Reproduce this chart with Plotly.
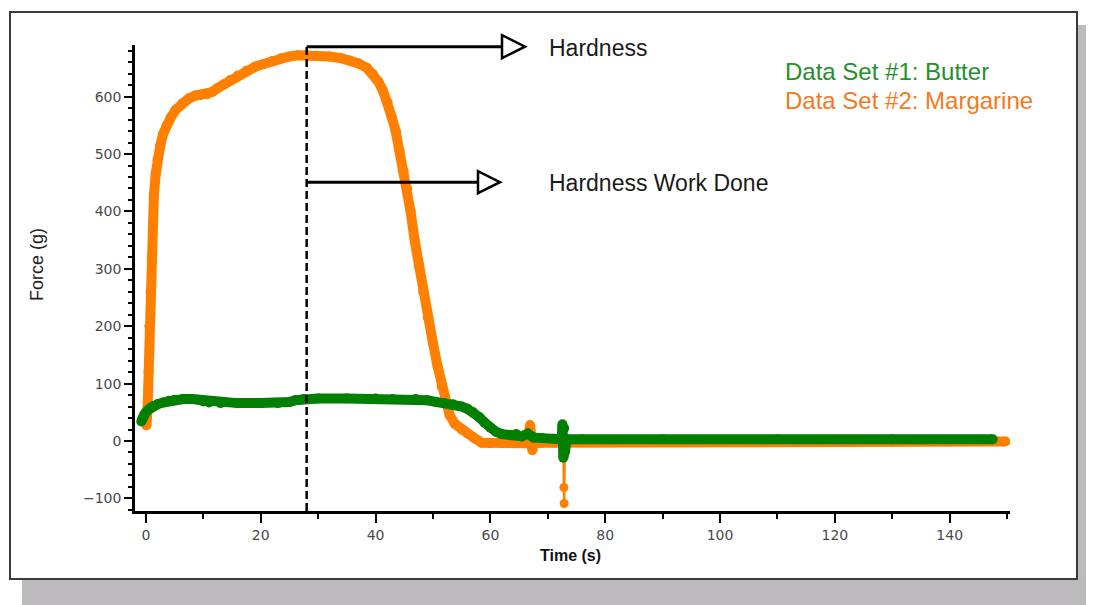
import plotly.graph_objects as go

# ---------------- data ----------------
margarine_time = [-0.2, 0.1, 0.3, 0.45, 0.6, 0.8, 1.0, 1.2, 1.4, 1.7, 2.0, 2.5, 3.0, 3.6,
                  4.3, 5.2, 6.3, 7.5, 8.6, 9.6, 10.6, 11.5, 12.5, 13.6, 14.7, 16.0, 17.5,
                  19.0, 20.5, 22.0, 23.5, 25.0, 26.5, 28.0, 30.0, 32.0, 34.0, 35.5, 37.0,
                  38.5, 39.5, 40.5, 41.3, 42.1, 42.8, 43.5, 44.2, 44.9, 45.5, 46.1, 46.8,
                  47.5, 48.3, 49.1, 50.0, 50.8, 51.5, 52.2, 52.9, 53.8, 55.0, 56.0, 57.2,
                  58.5, 60.0, 62.0, 64.0, 66.0, 66.6, 66.9, 67.1, 67.3, 67.6, 69.0, 71.0,
                  72.7, 74.0, 80.0, 90.0, 100.0, 110.0, 120.0, 130.0, 140.0, 149.7]
margarine_force = [40, 27, 60, 120, 200, 260, 320, 380, 430, 465, 490, 515, 535, 550,
                   563, 577, 588, 597, 602, 603, 604, 608, 615, 622, 629, 637, 645,
                   652, 657, 662, 667, 670, 672, 672, 671, 670, 667, 663, 658,
                   650, 640, 626, 610, 590, 565, 540, 505, 470, 440, 400, 350,
                   305, 260, 215, 170, 130, 95, 65, 45, 30, 20, 13, 5,
                   -3, -4, -4, -4, -4, -4, 28, 10, -16, -4, -3, -3,
                   -3, -2, -1, -1, -1, -1, -1, -1, -1, -1]

margarine_spike_time = [72.7, 72.8, 72.85, 72.95]
margarine_spike_force = [-3, -81, -109, -3]

butter_time = [-0.8, -0.6, -0.3, 0.0, 0.4, 0.8, 1.3, 2.0, 3.0, 4.0, 5.0, 6.5, 8.0, 9.0,
               10.0, 11.0, 13.0, 16.0, 20.0, 23.0, 25.0, 26.0, 27.5, 30.0, 35.0, 40.0,
               43.0, 47.0, 49.0, 50.5, 52.0, 53.5, 55.0, 56.0, 57.0, 58.0, 59.0, 60.0,
               61.0, 62.0, 63.5, 64.5, 65.5, 66.5, 67.5, 69.0, 71.0, 72.4, 72.55, 72.7,
               72.85, 73.0, 73.3, 76.0, 90.0, 110.0, 130.0, 147.5]
butter_force = [34, 40, 46, 50, 54, 58, 61, 64, 67, 70, 72, 73, 73, 72,
                69, 67, 66, 66, 66, 66, 68, 71, 73, 74, 74, 74,
                73, 73, 71, 68, 66, 64, 60, 56, 50, 42, 32, 23,
                16, 12, 10, 12, 8, 13, 6, 5, 4, 3, 29, -29,
                22, -18, 3, 3, 3, 3, 3, 3]

x_ticks = [0, 20, 40, 60, 80, 100, 120, 140]
y_ticks = [-100, 0, 100, 200, 300, 400, 500, 600]

hardness_time = 28
hardness_force = 687
work_force = 451

X_RANGE = [-1.9, 150.5]
Y_RANGE = [-122, 690]

ORANGE = "#ff8000"
GREEN = "#007f00"

# ---------------- layout geometry ----------------
# the page body has an 8px margin, so the figure starts at page pixel (8, 8)
OFF = 8
W, H = 1094 - OFF, 605 - OFF
PLOT_L, PLOT_R, PLOT_T, PLOT_B = 135, 1010, 45, 511   # page pixels
ML = PLOT_L - OFF
MT = PLOT_T - OFF
MR = W - (PLOT_R - OFF)
MB = H - (PLOT_B - OFF)
PW, PH = PLOT_R - PLOT_L, PLOT_B - PLOT_T


def xp(t):
    return (t - X_RANGE[0]) / (X_RANGE[1] - X_RANGE[0])


def yp(f):
    return (f - Y_RANGE[0]) / (Y_RANGE[1] - Y_RANGE[0])


def px_x(X):
    return (X - PLOT_L) / PW


def px_y(Y):
    return (PLOT_B - Y) / PH


fig = go.Figure()

fig.add_trace(go.Scatter(
    x=margarine_time, y=margarine_force, mode="lines+markers",
    line=dict(color=ORANGE, width=10), marker=dict(color=ORANGE, size=10),
    showlegend=False, hoverinfo="skip"))
fig.add_trace(go.Scatter(
    x=margarine_spike_time, y=margarine_spike_force, mode="lines+markers",
    line=dict(color=ORANGE, width=2.5), marker=dict(color=ORANGE, size=9),
    showlegend=False, hoverinfo="skip"))
fig.add_trace(go.Scatter(
    x=butter_time, y=butter_force, mode="lines+markers",
    line=dict(color=GREEN, width=10), marker=dict(color=GREEN, size=10),
    showlegend=False, hoverinfo="skip"))

shapes = []
# drop shadow and frame
shapes.append(dict(type="rect", xref="paper", yref="paper", layer="below",
                   x0=px_x(22), x1=px_x(1120), y0=px_y(640), y1=px_y(25),
                   fillcolor="#bdbbbe", line=dict(width=0)))
shapes.append(dict(type="rect", xref="paper", yref="paper", layer="below",
                   x0=px_x(10), x1=px_x(1077), y0=px_y(579), y1=px_y(12),
                   fillcolor="white", line=dict(color="#3a3a3a", width=2)))
# dashed vertical line
shapes.append(dict(type="line", xref="x", yref="paper",
                   x0=hardness_time, x1=hardness_time, y0=0, y1=yp(hardness_force),
                   line=dict(color="black", width=2.5, dash="8px,4px")))


def arrow(f, x_end_px, head_px=23, half_h_px=11.5):
    x0 = xp(hardness_time)
    yv = yp(f)
    xb = px_x(x_end_px)
    xt = xb + head_px / PW
    dh = half_h_px / PH
    out = [dict(type="line", xref="paper", yref="paper", x0=x0, x1=xb, y0=yv, y1=yv,
                line=dict(color="black", width=3))]
    out.append(dict(type="path", xref="paper", yref="paper",
                    path=f"M {xb},{yv - dh} L {xt},{yv} L {xb},{yv + dh} Z",
                    fillcolor="white", line=dict(color="black", width=2.5)))
    return out


shapes += arrow(hardness_force, 502)
shapes += arrow(work_force, 478, head_px=22, half_h_px=11)

annotations = [
    dict(text="Hardness", xref="paper", yref="paper", x=px_x(547), y=px_y(48),
         xanchor="left", yanchor="middle", showarrow=False,
         font=dict(family="Liberation Sans, Arial", size=23, color="#1a1a1a")),
    dict(text="Hardness Work Done", xref="paper", yref="paper", x=px_x(547), y=px_y(183),
         xanchor="left", yanchor="middle", showarrow=False,
         font=dict(family="Liberation Sans, Arial", size=23, color="#1a1a1a")),
    dict(text="Data Set #1: Butter", xref="paper", yref="paper", x=px_x(783), y=px_y(72),
         xanchor="left", yanchor="middle", showarrow=False,
         font=dict(family="Liberation Sans, Arial", size=24, color="#23902a")),
    dict(text="Data Set #2: Margarine", xref="paper", yref="paper", x=px_x(783), y=px_y(100),
         xanchor="left", yanchor="middle", showarrow=False,
         font=dict(family="Liberation Sans, Arial", size=24, color="#f47a22")),
    dict(text="<b>Time (s)</b>", xref="paper", yref="paper", x=px_x(570), y=px_y(555),
         xanchor="center", yanchor="middle", showarrow=False,
         font=dict(family="Liberation Sans Narrow, Liberation Sans, Arial", size=16, color="#111")),
    dict(text="Force (g)", xref="paper", yref="paper", x=px_x(37), y=px_y(265),
         xanchor="center", yanchor="middle", showarrow=False, textangle=-90,
         font=dict(family="Liberation Sans, Arial", size=18, color="#222")),
]

tickfont = dict(family="DejaVu Sans, Verdana", size=14, color="#4a4a4a")

fig.update_layout(
    width=W, height=H, autosize=False,
    margin=dict(l=ML, r=MR, t=MT, b=MB, pad=0),
    paper_bgcolor="white", plot_bgcolor="rgba(0,0,0,0)",
    shapes=shapes, annotations=annotations,
    xaxis=dict(range=X_RANGE, showgrid=False, zeroline=False, showline=True,
               linecolor="black", linewidth=2.5, ticks="outside", tickmode="array",
               tickvals=x_ticks, ticklen=9, tickwidth=2, tickcolor="black",
               tickfont=tickfont,
               minor=dict(tick0=0, dtick=10, ticks="outside", ticklen=5, tickwidth=2,
                          tickcolor="black", showgrid=False)),
    yaxis=dict(range=Y_RANGE, showgrid=False, zeroline=False, showline=True,
               linecolor="black", linewidth=2.5, ticks="outside", tickmode="array",
               tickvals=y_ticks, ticklen=8, tickwidth=2, tickcolor="black",
               tickfont=tickfont,
               minor=dict(tick0=0, dtick=20, ticks="outside", ticklen=4, tickwidth=1.5,
                          tickcolor="black", showgrid=False)),
)

fig.write_html("out.html")
